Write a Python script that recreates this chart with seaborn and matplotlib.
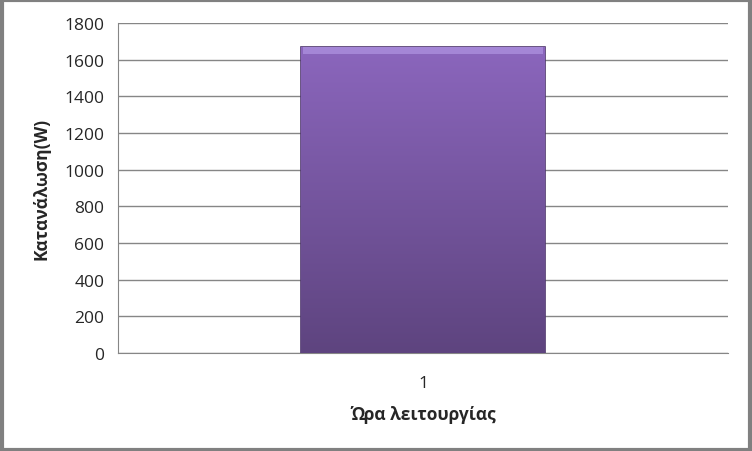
import numpy as np
import pandas as pd
import matplotlib
matplotlib.use('Agg')
import matplotlib.pyplot as plt
from matplotlib.colors import LinearSegmentedColormap
from matplotlib.patches import Rectangle
import seaborn as sns

# Data
hours = ['1']
consumption = [1668]
y_ticks = [0, 200, 400, 600, 800, 1000, 1200, 1400, 1600, 1800]

df = pd.DataFrame({'hour': hours, 'watts': consumption})

sns.set_style('white')
plt.rcParams['font.family'] = ['Open Sans', 'DejaVu Sans']

fig = plt.figure(figsize=(7.52, 4.52), dpi=100)
ax = fig.add_axes([0.157, 0.217, 0.811, 0.730])

sns.barplot(data=df, x='hour', y='watts', color='#7a58a8', width=0.4,
            edgecolor='#4e366c', linewidth=1.2, ax=ax, zorder=3)

# vertical gradient on the bar (light top, darker bottom)
cmap = LinearSegmentedColormap.from_list('purp', ['#5e447f', '#8b66bd'])
grad = np.linspace(0, 1, 256).reshape(-1, 1)
for bar in ax.patches:
    x0, y0 = bar.get_x(), bar.get_y()
    w, h = bar.get_width(), bar.get_height()
    im = ax.imshow(grad, cmap=cmap, origin='lower', aspect='auto',
                   extent=[x0, x0 + w, y0, y0 + h], zorder=4)
    im.set_clip_path(bar)
    # light bevel at the top edge
    ax.add_patch(Rectangle((x0 + 0.004, y0 + h - 35), w - 0.008, 35, color='#a98cdb',
                           alpha=0.85, zorder=5, linewidth=0))

ax.set_xlim(-0.5, 0.5)
ax.set_ylim(0, 1800)
ax.set_yticks(y_ticks)
ax.set_yticklabels([str(t) for t in y_ticks], fontsize=12.5)
ax.tick_params(axis='x', length=0, labelsize=12.5, pad=16)
ax.tick_params(axis='y', length=5, color='#868686', width=1, pad=5)
ax.yaxis.grid(True, color='#868686', linewidth=1)
ax.set_axisbelow(True)

for side in ['top', 'right']:
    ax.spines[side].set_visible(False)
ax.spines['left'].set_color('#868686')
ax.spines['bottom'].set_color('#868686')

ax.set_xlabel('Ώρα λειτουργίας', fontsize=12.5, fontweight='bold', labelpad=10)
ax.set_ylabel('Κατανάλωση(W)', fontsize=12.5, fontweight='bold', labelpad=10)

# grey frame round the whole chart
fig.patches.append(Rectangle((0.002, 0.003), 0.996, 0.994, transform=fig.transFigure,
                             fill=False, edgecolor='#808080', linewidth=3))

fig.savefig('out.png', dpi=100)
